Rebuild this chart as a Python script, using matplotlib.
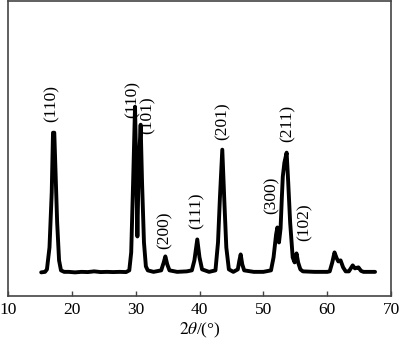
import matplotlib
matplotlib.use("Agg")
import matplotlib.pyplot as plt

# XRD pattern: 2theta (deg) and intensity (a.u.)
two_theta = [15.2, 15.8, 16.1, 16.5, 16.85, 17.05, 17.25, 17.45, 17.7, 18.0, 18.3, 18.8,
             19.5, 20.5, 21.5, 22.5, 23.5, 24.5, 25.5, 26.5, 27.5, 28.5, 29.0,
             29.3, 29.6, 29.9, 30.1, 30.27, 30.45, 30.78, 31.0, 31.3, 31.6, 31.9,
             32.8, 34.0, 34.4, 34.65, 34.95, 35.3, 36.5, 38.0,
             38.8, 39.2, 39.65, 40.0, 40.4, 41.5,
             42.5, 42.9, 43.2, 43.57, 43.9, 44.2, 44.6, 45.3,
             46.0, 46.25, 46.45, 46.7, 47.0, 48.5, 50.0,
             51.2, 51.6, 52.0, 52.2, 52.45, 52.7, 52.9, 53.05, 53.3, 53.65, 53.9,
             54.2, 54.6, 54.9, 55.2, 55.45, 55.8, 56.2, 58.0, 60.0,
             60.4, 60.8, 61.15, 61.5, 61.75, 62.1, 62.5, 62.9, 63.4,
             63.7, 64.0, 64.35, 64.6, 64.9, 65.3, 65.7, 66.5, 67.5]
intensity = [0, 0.5, 3, 25, 80, 140, 140, 100, 50, 12, 2, 0.5,
             0.5, 0, 0.5, 0.3, 1, 0.3, 0.5, 0.3, 0.5, 0.3, 2,
             20, 90, 166, 100, 36, 100, 148, 90, 30, 6, 2,
             0.5, 2, 10, 16, 8, 2, 0.5, 1,
             2, 12, 33, 15, 3, 0.5,
             2, 30, 75, 123, 70, 25, 3, 0.5,
             3, 12, 18, 8, 2, 0.5, 0.5,
             2, 15, 38, 45, 30, 44, 75, 96, 110, 120, 90,
             50, 15, 10, 19, 10, 3, 1, 0.5, 0.5,
             1, 10, 20, 14, 11, 12, 5, 1, 1,
             4, 7, 4, 4.5, 5, 1.5, 0.5, 0.5, 0.5]

# Miller-index labels and their anchor points (2theta, intensity)
hkl_labels = ["(110)", "(110)", "(101)", "(200)", "(111)", "(201)", "(300)", "(211)", "(102)"]
hkl_x = [16.85, 29.6, 31.9, 34.6, 39.56, 43.7, 51.3, 53.87, 56.5]
hkl_y = [169, 173, 158, 42, 62, 152, 77, 149, 50]

xticks = [10, 20, 30, 40, 50, 60, 70]

plt.rcParams['font.family'] = ['Liberation Serif', 'DejaVu Serif']
plt.rcParams['mathtext.fontset'] = 'stix'

fig = plt.figure(figsize=(4.0, 3.46), dpi=100)
ax = fig.add_axes([0.02, 0.1445, 0.9575, 0.8525])

ax.plot(two_theta, intensity, color='black', linewidth=2.8,
        solid_joinstyle='round', solid_capstyle='round')

for t, x, y in zip(hkl_labels, hkl_x, hkl_y):
    ax.text(x, y, t, rotation=90, ha='center', va='center', fontsize=12.5)

ax.set_xlim(10, 70)
ax.set_ylim(-23.7, 272)
ax.set_xticks(xticks)
ax.set_xticklabels([str(v) for v in xticks], fontsize=12.5)
ax.set_yticks([])
ax.tick_params(axis='x', direction='in', length=3.5, width=1, color='#444444', pad=4)
for s in ax.spines.values():
    s.set_color('#444444')
    s.set_linewidth(1.2)

ax.set_xlabel(r"$2\theta$/(°)", fontsize=12.5, labelpad=2)

fig.savefig("out.png", dpi=100)
